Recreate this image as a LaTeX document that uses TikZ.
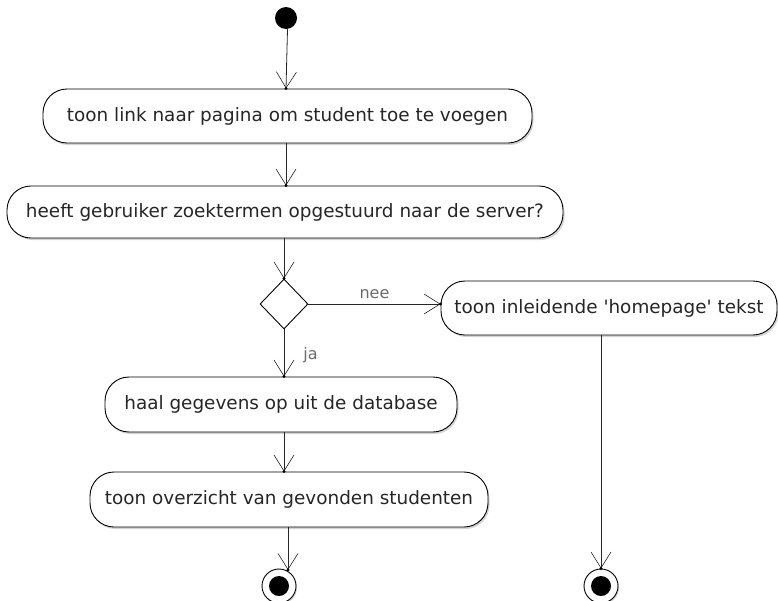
\documentclass[tikz,border=0pt]{standalone}
\usepackage{fontspec}
\setmainfont{DejaVu Sans}[Ligatures=TeXOff]
\usetikzlibrary{arrows.meta,shapes.geometric,shadows}
\definecolor{txt}{HTML}{262626}
\definecolor{lbl}{HTML}{6A6A6A}
\tikzset{
  act/.style={draw=black, line width=0.9pt, fill=white, rounded corners=24pt,
    inner sep=0pt, text=txt, font=\fontsize{18.4}{22}\selectfont,
    drop shadow={shadow xshift=1.5pt, shadow yshift=-2pt, opacity=0.35, fill=gray}},
  arr/.style={draw=black!85, line width=0.8pt,
    -{Straight Barb[length=16pt,width=20pt,line width=0.6pt]}},
  tipdot/.style={fill=black, radius=1.6pt},
  lab/.style={text=lbl, font=\fontsize{16}{19}\selectfont, inner sep=0pt}
}
\begin{document}
\begin{tikzpicture}[x=1pt,y=-1pt]
\useasboundingbox (0,0) rectangle (778,600);
% start
\node[circle, fill=black, minimum size=22pt, inner sep=0pt] (start) at (286,18) {};
% activities
\node[act, minimum width=489pt, minimum height=54pt] (b1) at (287.5,116) {toon link naar pagina om student toe te voegen};
\node[act, minimum width=556pt, minimum height=52pt] (b2) at (285,212) {heeft gebruiker zoektermen opgestuurd naar de server?};
\node[draw=black, line width=0.9pt, fill=white, diamond, inner sep=0pt, minimum width=48pt, minimum height=50pt] (d) at (284,304) {};
\node[act, minimum width=336pt, minimum height=54pt] (b3) at (609,308) {toon inleidende 'homepage' tekst};
\node[act, minimum width=352pt, minimum height=55pt] (b4) at (281,404.5) {haal gegevens op uit de database};
\node[act, minimum width=398pt, minimum height=55pt] (b5) at (289,499.5) {toon overzicht van gevonden studenten};
% end nodes
\node[circle, draw=black, line width=0.9pt, fill=white, minimum size=34pt, inner sep=0pt,
  drop shadow={shadow xshift=1pt, shadow yshift=-1.5pt, opacity=0.35, fill=gray}] (e1) at (279,586) {};
\node[circle, fill=black, minimum size=20pt, inner sep=0pt] (e1i) at (e1) {};
\node[circle, draw=black, line width=0.9pt, fill=white, minimum size=34pt, inner sep=0pt,
  drop shadow={shadow xshift=1pt, shadow yshift=-1.5pt, opacity=0.35, fill=gray}] (e2) at (601,586) {};
\node[circle, fill=black, minimum size=20pt, inner sep=0pt] (e2i) at (e2) {};
% connectors
\draw[arr] (start.south -| b1.north) -- (b1.north -| start.south);
\draw[arr] (b1.south -| 286,0) -- (b2.north -| 286,0);
\draw[arr] (b2.south -| d.north) -- (d.north);
\draw[arr] (d.east) -- (b3.west |- d.east) node[lab, midway, above=5pt] {nee};
\draw[arr] (d.south) -- (b4.north -| d.south) node[lab, pos=0.55, right=19pt] {ja};
\draw[arr] (b4.south -| d.south) -- (b5.north -| d.south);
\coordinate (e1top) at (288,570);
\draw[arr] (b5.south -| e1top) -- (e1top);
\draw[arr] (b3.south -| e2.north) -- (e2.north);
% tip dots
\fill[tipdot] (b1.north -| start.south) circle;
\fill[tipdot] (b2.north -| 286,0) circle;
\fill[tipdot] (d.north) circle;
\fill[tipdot] (b3.west |- d.east) circle;
\fill[tipdot] (b4.north -| d.south) circle;
\fill[tipdot] (b5.north -| d.south) circle;
\fill[tipdot] (e1top) circle;
\fill[tipdot] (e2.north) circle;
\end{tikzpicture}
\end{document}
